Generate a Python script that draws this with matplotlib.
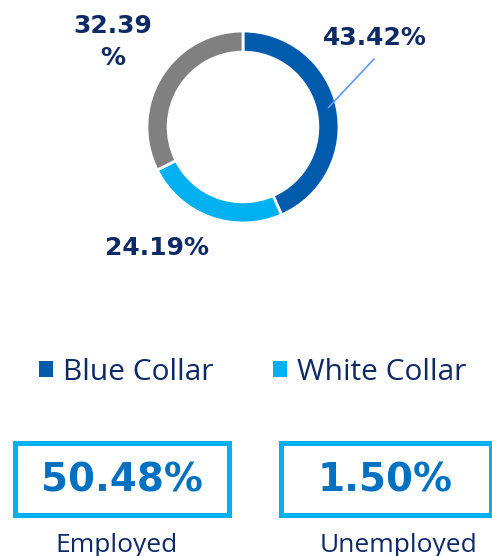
import matplotlib
matplotlib.use('Agg')
import matplotlib.pyplot as plt
from matplotlib.patches import Rectangle
import numpy as np

# données
categories = ['Blue Collar', 'White Collar', 'Other']
parts = [43.42, 24.19, 32.39]
couleurs = ['#005BAC', '#00B0F0', '#808080']
etiquettes = ['43.42%', '24.19%', '32.39\n%']
stats_valeurs = ['50.48%', '1.50%']
stats_noms = ['Employed', 'Unemployed']

W, H = 492, 556
NAVY = '#0E2A66'
CYAN = '#00B0F0'

fig = plt.figure(figsize=(W / 100, H / 100), dpi=100)


def fx(x):
    return x / W


def fy(y):
    return 1 - y / H


# donut : centre (243,127) px, rayon 96 px
cx, cy, r = 243, 127, 96
ax = fig.add_axes([fx(cx - r), fy(cy + r), 2 * r / W, 2 * r / H])
wedges, _ = ax.pie(parts, colors=couleurs, startangle=90, counterclock=False,
                   radius=1, wedgeprops=dict(width=0.22, edgecolor='white', linewidth=2))
ax.set_xlim(-1, 1)
ax.set_ylim(-1, 1)
ax.set_aspect('equal')
ax.axis('off')

# étiquettes
font_lbl = dict(fontsize=18, fontweight='bold', color=NAVY, family='DejaVu Sans',
                ha='center', va='center')
# 43.42% avec trait de rappel
w0 = wedges[0]
ang = np.deg2rad((w0.theta1 + w0.theta2) / 2)
ax.annotate('', xy=(0.89 * np.cos(ang), 0.89 * np.sin(ang)), xytext=(1.385, 0.73),
            arrowprops=dict(arrowstyle='-', color='#5B9BF8', lw=1.2), annotation_clip=False)
ax.text(1.375, 0.93, etiquettes[0], **font_lbl)
ax.text(-0.90, -1.26, etiquettes[1], **font_lbl)
ax.text(-1.36, 0.885, etiquettes[2], linespacing=1.45, **font_lbl)

# légende
leg = fig.legend(handles=wedges[:2], labels=categories[:2], loc='center',
                 bbox_to_anchor=(fx(253), fy(372)), ncol=2, frameon=False,
                 prop={'family': 'Open Sans', 'size': 21.5},
                 handlelength=0.45, handleheight=0.45, handletextpad=0.35,
                 columnspacing=2.0, borderpad=0)
for t in leg.get_texts():
    t.set_color(NAVY)
for h in leg.legend_handles:
    h.set_edgecolor('none')

# encadrés
boites = [(13, 231), (278, 493)]
centres_noms = [117, 398]
for (x0, x1), val, nom, xn in zip(boites, stats_valeurs, stats_noms, centres_noms):
    fig.add_artist(Rectangle((fx(x0 + 2.5), fy(517 - 2.5)), (x1 - x0 - 5) / W, 72 / H,
                             transform=fig.transFigure, fill=False,
                             edgecolor=CYAN, linewidth=3.6))
    fig.text(fx((x0 + x1) / 2), fy(480), val, fontsize=28, fontweight='bold',
             color='#0070C0', family='DejaVu Sans', ha='center', va='center')
    fig.text(fx(xn), fy(545), nom, fontsize=19, color=NAVY,
             family='Open Sans', ha='center', va='center')

plt.savefig('out.png', dpi=100)
plt.close()
